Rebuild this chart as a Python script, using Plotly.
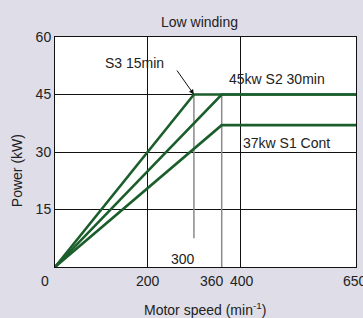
import plotly.graph_objects as go

# Data
s3_speed = [0, 300, 650]
s3_power = [0, 45, 45]
s2_speed = [0, 360, 650]
s2_power = [0, 45, 45]
s1_speed = [0, 360, 650]
s1_power = [0, 37, 37]
ref300_speed = [300, 300]
ref300_power = [45, 7.5]
ref360_speed = [360, 360]
ref360_power = [45, 0]
x_tick_vals = [200, 400]
y_tick_vals = [15, 30, 45, 60]
x_label_text = ["200", "360", "400", "650"]
x_label_pos = [200, 338.7, 404.5, 647]

GREEN = "#1b5e2c"
GRAY = "#8a8a8a"
BG = "#dfdde7"
FONT = "Liberation Sans, Arial, sans-serif"
TXT = "#222222"

fig = go.Figure()
for xs, ys in [(ref300_speed, ref300_power), (ref360_speed, ref360_power)]:
    fig.add_trace(go.Scatter(x=xs, y=ys, mode="lines",
                             line=dict(color=GRAY, width=1.5),
                             showlegend=False, hoverinfo="skip"))
for xs, ys in [(s1_speed, s1_power), (s2_speed, s2_power), (s3_speed, s3_power)]:
    fig.add_trace(go.Scatter(x=xs, y=ys, mode="lines",
                             line=dict(color=GREEN, width=2.6),
                             showlegend=False, hoverinfo="skip", cliponaxis=False))

def txt(x, y, t, xref="x", yref="y", **kw):
    d = dict(x=x, y=y, xref=xref, yref=yref, text=t, showarrow=False,
             xanchor="center", yanchor="middle", font=dict(size=14, color=TXT))
    d.update(kw)
    return d

ann = [txt(p, -0.061, t, yref="paper") for t, p in zip(x_label_text, x_label_pos)]
ann += [
    txt(-0.0332, -0.061, "0", xref="paper", yref="paper"),
    txt(172.6, 53.2, "S3 15min"),
    dict(x=300, y=45, xref="x", yref="y", text="", showarrow=True, ax=-18, ay=-25.5,
         arrowhead=2, arrowsize=1, arrowwidth=1, arrowcolor="#111", standoff=0),
    txt(479, 49.0, "45kw S2 30min"),
    txt(500.5, 32.3, "37kw S1 Cont"),
    txt(276, 2.1, "300"),
    txt(313, 1.065, "Low winding", yref="paper"),
    txt(323.6, -0.183, "Motor speed (min<sup>-1</sup>)", yref="paper"),
    txt(-0.126, 0.417, "Power (kW)", xref="paper", yref="paper", textangle=-90),
]

shapes = [
    dict(type="rect", xref="paper", yref="paper", x0=-0.3, x1=1.1, y0=-0.3, y1=1.3,
         fillcolor=BG, line=dict(width=0), layer="below"),
    dict(type="rect", xref="paper", yref="paper", x0=0, x1=1, y0=0, y1=1,
         fillcolor="#ffffff", line=dict(width=0), layer="below"),
]

fig.update_layout(
    width=363, height=318,
    margin=dict(l=55, r=7, t=37, b=51),
    paper_bgcolor=BG, plot_bgcolor="#ffffff",
    font=dict(family=FONT, size=14, color=TXT),
    annotations=ann, shapes=shapes,
    showlegend=False,
)
fig.update_xaxes(range=[0, 650], tickvals=x_tick_vals, showticklabels=False,
                 showgrid=True, gridcolor="#111", gridwidth=1, zeroline=False,
                 showline=True, linecolor="#111", linewidth=1, mirror=True, ticks="")
fig.update_yaxes(range=[0, 60], tickvals=y_tick_vals, showgrid=True, gridcolor="#111",
                 gridwidth=1, zeroline=False, showline=True, linecolor="#111",
                 linewidth=1, mirror=True, ticks="", tickfont=dict(size=14, color=TXT))

fig.write_html("out.html", config={"displayModeBar": False},
               post_script="document.body.style.margin='0';document.body.style.padding='0';"
                           "document.body.style.background='" + BG + "';")
